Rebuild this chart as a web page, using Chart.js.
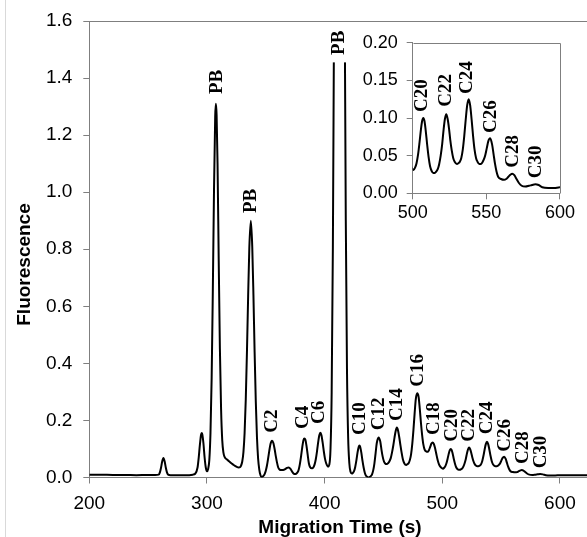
<!DOCTYPE html>
<html>
<head>
<meta charset="utf-8">
<script src="https://cdn.jsdelivr.net/npm/chart.js@4.4.1/dist/chart.umd.min.js"></script>
<style>
  html, body { margin: 0; padding: 0; background: #fff; }
  #wrap { position: relative; width: 587px; height: 537px; overflow: hidden; }
  #main { position: absolute; left: 0; top: 0; }
  #inset { position: absolute; left: 330px; top: 24px; }
  #edge { position: absolute; left: 5px; top: 0; width: 1px; height: 537px; background: #d9d9d9; }
</style>
</head>
<body>
<div id="wrap">
  <div id="edge"></div>
  <canvas id="main" width="587" height="537"></canvas>
  <canvas id="inset" width="250" height="205"></canvas>
</div>
<script>
// ---- data ----
const times = [200,210,220,230,240,250,256,259,260,261,262,263,264,265,266,267,269,275,282,288,
  290,292,293,294,295,295.5,296,297,298,299,300,301,302,303,304,305,306,307,307.6,308.2,309,310,311,312,313,314,315,317,319,321,323,325,327,
  328,329,330,331,332,333,334,335,336,337.3,338.5,339.5,340.5,341.5,342.5,343.5,344.5,345.5,346.6,
  348,349,350,351,352,353,354,355.3,356.5,357.5,358.5,359.5,360.5,361.5,363,364.7,366.5,368,369.5,371,372.5,374,375.1,
  376,377,378,379,380,381,382,382.8,383.6,384.6,385.6,386.6,387.6,389.3,
  390.5,391.5,392.5,393.5,394.5,395.5,396.4,397.3,398.3,399.3,400.3,401.3,402.9,
  404,405,406,407,408,409,411,412.7,414.5,416,417,418,419,420,421,422,423.1,
  424,425,426,427,428,429,429.6,430.2,431.2,432.2,433.2,434.2,435.2,436.3,437.3,
  438.3,439.3,440.3,441.3,442.3,443.3,444.3,445.8,447.3,448.3,449.3,450.3,451.3,452.9,
  453.9,455,456.2,457.3,458.4,459.4,460.4,461.4,462.4,463.4,464.4,465.4,466.5,467.8,469.3,
  470.5,471.5,472.5,473.5,474.5,475.5,476.5,477.5,478.7,479.9,480.9,481.9,482.9,483.9,485,486.5,487.8,
  488.8,489.8,490.8,491.8,492.8,493.8,494.8,495.8,496.8,497.8,499,500.6,
  501.6,502.6,503.6,504.6,505.6,506.4,507.2,508,508.8,509.8,510.8,511.8,512.8,514,515,
  516,517,518,519,520,521,521.9,522.8,523.7,524.6,525.5,526.5,527.5,528.5,530,
  531,532,533,534,535,536,537,538,539,540,541,542,543,544,545.2,546.3,
  547.3,548.3,549.3,550.3,551.3,552.6,553.9,554.9,555.9,556.9,558,560,562,
  563.5,565,566.5,567.6,569,570.5,572,574,576.5,579,581,583.2,585.5,588,592,596,600,610,623];
const fluorescence = [0.010,0.010,0.009,0.009,0.008,0.009,0.009,0.010,0.018,0.035,0.057,0.068,0.057,0.035,0.018,0.010,0.008,0.008,0.008,0.010,
  0.013,0.035,0.070,0.115,0.150,0.156,0.152,0.120,0.070,0.035,0.022,0.030,0.061,0.157,0.350,0.660,1.010,1.265,1.310,1.270,1.100,0.760,0.450,0.240,0.130,0.087,0.072,0.063,0.056,0.049,0.043,0.038,0.035,
  0.036,0.042,0.056,0.089,0.157,0.275,0.442,0.635,0.805,0.900,0.808,0.640,0.440,0.267,0.141,0.065,0.027,0.008,0.001,
  0.006,0.012,0.024,0.042,0.067,0.094,0.117,0.129,0.120,0.100,0.075,0.053,0.036,0.029,0.026,0.026,0.029,0.034,0.035,0.030,0.020,0.013,0.012,
  0.014,0.018,0.028,0.048,0.075,0.106,0.131,0.137,0.133,0.111,0.080,0.050,0.037,0.032,
  0.036,0.046,0.064,0.091,0.123,0.148,0.157,0.148,0.123,0.092,0.066,0.050,0.038,
  0.045,0.100,0.300,0.800,1.600,2.300,2.800,2.900,2.800,2.300,1.700,0.900,0.380,0.140,0.050,0.020,0.014,
  0.016,0.022,0.037,0.060,0.088,0.108,0.112,0.108,0.087,0.058,0.034,0.016,0.006,0.002,0.000,
  0.002,0.005,0.011,0.025,0.049,0.084,0.120,0.140,0.126,0.098,0.074,0.058,0.050,0.047,
  0.050,0.056,0.068,0.088,0.113,0.140,0.163,0.175,0.165,0.142,0.114,0.088,0.064,0.049,0.044,
  0.047,0.051,0.062,0.082,0.118,0.167,0.225,0.275,0.295,0.282,0.240,0.190,0.148,0.116,0.098,0.091,0.090,
  0.097,0.108,0.119,0.123,0.118,0.104,0.085,0.066,0.051,0.041,0.035,0.031,
  0.034,0.040,0.051,0.067,0.085,0.096,0.100,0.096,0.084,0.065,0.048,0.036,0.030,0.027,0.027,
  0.029,0.032,0.039,0.050,0.065,0.085,0.099,0.105,0.099,0.087,0.071,0.057,0.047,0.042,0.039,
  0.040,0.042,0.047,0.058,0.076,0.098,0.117,0.125,0.117,0.098,0.076,0.058,0.047,0.042,0.039,0.039,
  0.041,0.045,0.051,0.060,0.069,0.073,0.065,0.052,0.039,0.029,0.022,0.019,0.018,
  0.019,0.022,0.025,0.026,0.024,0.019,0.014,0.010,0.009,0.010,0.011,0.012,0.011,0.008,0.007,0.007,0.008,0.008,0.008];

const mainLabels = ['PB','PB','PB','C2','C4','C6','C10','C12','C14','C16','C18','C20','C22','C24','C26','C28','C30'];
const mainLabelTimes = [307.8,336.6,411.5,354.5,380.6,394.5,429.3,445.5,460.8,478.4,492.3,507.3,522.0,537.3,552.6,567.7,583.2];
const mainLabelLevels = [1.344,0.927,1.481,0.157,0.170,0.1875,0.149,0.166,0.198,0.318,0.149,0.125,0.125,0.152,0.090,0.047,0.032];
const insetLabels = ['C20','C22','C24','C26','C28','C30'];
const insetLabelTimes = [505.6,521.7,536.4,552.5,567.3,583.4];
const insetLabelLevels = [0.108,0.115,0.132,0.080,0.034,0.020];

const mainXTicks = [200, 623, 100];   // min, max, step
const mainYTicks = [0, 1.6, 0.2];
const insetXTicks = [500, 600, 50];
const insetYTicks = [0, 0.2, 0.05];
const clippedPeakIndex = 2;      // third PB peak runs off-scale behind its label
const clippedPeakLevel = 1.455;

// ---- rendering ----
const points = times.map((t, i) => ({ x: t, y: fluorescence[i] }));
const AXIS = '#7f7f7f';
const SANS = "'Liberation Sans', Arial, sans-serif";
const SERIF = "'Liberation Serif', 'Times New Roman', serif";

function peakLabelPlugin(names, ts, levels, size, clipIdx) {
  return {
    id: 'peakLabels',
    afterDatasetsDraw(chart) {
      const { ctx, scales: { x, y }, chartArea } = chart;
      ctx.save();
      ctx.font = 'bold ' + size + 'px ' + SERIF;
      names.forEach((name, i) => {
        const px = x.getPixelForValue(ts[i]);
        const py = y.getPixelForValue(levels[i]);
        if (i === clipIdx) {
          const yb = y.getPixelForValue(clippedPeakLevel);
          ctx.fillStyle = '#fff';
          ctx.fillRect(px - 11, chartArea.top - 4, 22, yb - chartArea.top + 4);
        }
        ctx.save();
        ctx.translate(px, py);
        ctx.rotate(-Math.PI / 2);
        ctx.fillStyle = '#000';
        ctx.textAlign = 'left';
        ctx.textBaseline = 'middle';
        ctx.fillText(name, 0, 1);
        ctx.restore();
      });
      ctx.restore();
    }
  };
}

const mainFrame = {
  id: 'mainFrame',
  afterDraw(chart) {
    const { ctx, chartArea } = chart;
    ctx.save();
    ctx.strokeStyle = AXIS;
    ctx.lineWidth = 1;
    ctx.beginPath();
    ctx.moveTo(chartArea.left, chartArea.top + 0.5);
    ctx.lineTo(chart.width, chartArea.top + 0.5);
    ctx.stroke();
    ctx.fillStyle = '#000';
    ctx.font = 'bold 19px ' + SANS;
    ctx.textAlign = 'center';
    ctx.textBaseline = 'alphabetic';
    ctx.fillText('Migration Time (s)', 340, 533);
    ctx.translate(30, 264.5);
    ctx.rotate(-Math.PI / 2);
    ctx.fillText('Fluorescence', 0, 0);
    ctx.restore();
  }
};

const insetFrame = {
  id: 'insetFrame',
  afterDraw(chart) {
    const { ctx, chartArea } = chart;
    ctx.save();
    ctx.strokeStyle = AXIS;
    ctx.lineWidth = 1;
    ctx.beginPath();
    ctx.moveTo(Math.round(chartArea.left) + 0.5, Math.round(chartArea.top) + 0.5);
    ctx.lineTo(Math.round(chartArea.right) + 0.5, Math.round(chartArea.top) + 0.5);
    ctx.lineTo(Math.round(chartArea.right) + 0.5, Math.round(chartArea.bottom) + 0.5);
    ctx.stroke();
    ctx.restore();
  }
};

function axisOpts(tk, fontSize, decimals, pad, fit) {
  return {
    type: 'linear',
    min: tk[0], max: tk[1],
    grid: { drawOnChartArea: false, drawTicks: true, tickLength: 6, color: AXIS, lineWidth: 1 },
    border: { display: true, color: AXIS, width: 1 },
    ticks: {
      stepSize: tk[2], includeBounds: false, color: '#000', padding: pad,
      font: { family: SANS, size: fontSize, lineHeight: 1 },
      maxRotation: 0, autoSkip: false,
      callback: v => Number(v).toFixed(decimals)
    },
    afterFit: fit
  };
}

Chart.defaults.animation = false;

new Chart(document.getElementById('main'), {
  type: 'line',
  data: { datasets: [{ data: points, borderColor: '#000', borderWidth: 2, pointRadius: 0,
    cubicInterpolationMode: 'monotone', fill: false }] },
  options: {
    responsive: false, animation: false, events: [],
    layout: { padding: { left: 0, top: 21, right: 0, bottom: 0 } },
    plugins: { legend: { display: false }, tooltip: { enabled: false } },
    scales: {
      x: axisOpts(mainXTicks, 19, 0, 11, s => { s.height = 59.5; }),
      y: axisOpts(mainYTicks, 19, 1, 11, s => { s.width = 89.3; })
    }
  },
  plugins: [peakLabelPlugin(mainLabels, mainLabelTimes, mainLabelLevels, 19, clippedPeakIndex), mainFrame]
});

new Chart(document.getElementById('inset'), {
  type: 'line',
  data: { datasets: [{ data: points, borderColor: '#000', borderWidth: 2, pointRadius: 0,
    cubicInterpolationMode: 'monotone', fill: false }] },
  options: {
    responsive: false, animation: false, events: [],
    layout: { padding: { left: 0, top: 18.7, right: 18.3, bottom: 0 } },
    plugins: { legend: { display: false }, tooltip: { enabled: false } },
    scales: {
      x: axisOpts(insetXTicks, 18, 0, 5, s => { s.height = 35.7; }),
      y: axisOpts(insetYTicks, 18, 2, 9, s => { s.width = 82.7; })
    }
  },
  plugins: [peakLabelPlugin(insetLabels, insetLabelTimes, insetLabelLevels, 19, -1), insetFrame]
});
</script>
</body>
</html>
